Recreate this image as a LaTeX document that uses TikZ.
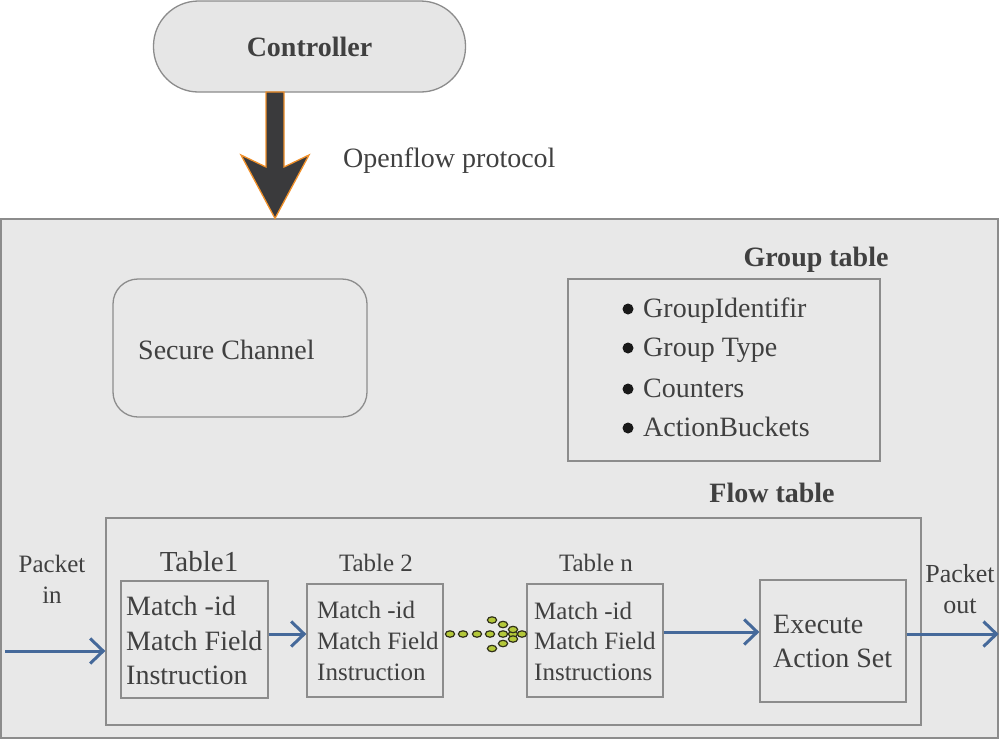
\documentclass[tikz,border=0pt]{standalone}
\usepackage{fontspec}
\setmainfont{Liberation Serif}
\usetikzlibrary{arrows.meta,calc}
\definecolor{txt}{HTML}{404040}
\definecolor{edge}{HTML}{8C8C8C}
\definecolor{panel}{HTML}{E8E8E8}
\definecolor{ctrlfill}{HTML}{E6E6E6}
\definecolor{flowblue}{HTML}{45699A}
\definecolor{darkarrow}{HTML}{3A3A3C}
\definecolor{orangeedge}{HTML}{F0902A}
\definecolor{dotfill}{HTML}{B4C83A}
\definecolor{dotedge}{HTML}{30301A}
\begin{document}
\begin{tikzpicture}[x=1pt,y=-1pt,
  box/.style={draw=edge, line width=1.3pt, fill=panel, inner sep=0pt},
  lbl/.style={text=txt, inner sep=0pt, anchor=base west, font=\fontsize{28}{30}\selectfont},
  clbl/.style={text=txt, inner sep=0pt, anchor=base, font=\fontsize{26}{30}\selectfont},
  title/.style={text=txt, inner sep=0pt, anchor=base, font=\fontsize{28}{30}\selectfont\bfseries},
  small/.style={text=txt, inner sep=0pt, anchor=base west, font=\fontsize{25}{30}\selectfont},
  big/.style={text=txt, inner sep=0pt, anchor=base west, font=\fontsize{28}{30}\selectfont},
  flow/.style={draw=flowblue, line width=3pt, -{Straight Barb[length=13pt,width=25pt]}},
  gdot/.style={fill=dotfill, draw=dotedge, line width=1.2pt},
  bul/.style={fill=black!90, draw=none}]
\useasboundingbox (0,0) rectangle (1000,740);
\fill[white] (0,0) rectangle (1000,740);
% main panel
\node[box, minimum width=997pt, minimum height=519pt] (main) at (499.5,478.5) {};
% controller
\node[draw=edge, line width=1.3pt, fill=ctrlfill, rounded corners=45pt, minimum width=312pt, minimum height=91pt, inner sep=0pt, text=txt, font=\fontsize{28}{30}\selectfont\bfseries] (ctrl) at (309.5,46.5) {Controller};
% big arrow
\coordinate (atop) at (275,92);
\coordinate (abot) at (atop |- main.north);
\draw[fill=darkarrow, draw=orangeedge, line width=1.3pt, line join=miter]
  ($(atop)+(-9,0)$) -- ($(atop)+(9,0)$) -- ($(atop)+(9,75)$) -- ($(atop)+(34,63)$)
  -- (abot) -- ($(atop)+(-34,63)$) -- ($(atop)+(-9,75)$) -- cycle;
\node[lbl] (ofp) at (343,167) {Openflow protocol};
% secure channel
\node[box, rounded corners=25pt, minimum width=254pt, minimum height=138pt] (sc) at (240,348) {};
\node[lbl] (sctext) at (138,359) {Secure Channel};
% group table
\node[title] (gtitle) at (816,266) {Group table};
\node[box, minimum width=312pt, minimum height=182pt] (gt) at (724,370) {};
\foreach \t/\b [count=\i] in {GroupIdentifir/317, Group Type/356, Counters/397, ActionBuckets/436} {
  \fill[bul] (628,\b-8) circle (5.5pt);
  \node[lbl] (gi\i) at (643,\b) {\t};
}
% flow table
\node[title] (ftitle) at (772,502) {Flow table};
\node[box, minimum width=815pt, minimum height=207pt] (fbox) at (513.5,621.5) {};
% tables
\node[box, minimum width=147pt, minimum height=117pt] (t1) at (194.5,639.5) {};
\node[box, minimum width=136pt, minimum height=113pt] (t2) at (375,640.5) {};
\node[box, minimum width=136pt, minimum height=113pt] (tn) at (595,640.5) {};
\node[box, minimum width=146pt, minimum height=122pt] (exe) at (833,641) {};
\node[clbl, font=\fontsize{29}{30}\selectfont] (t1l) at (199,571) {Table1};
\node[clbl, font=\fontsize{25}{30}\selectfont] (t2l) at (376,571) {Table 2};
\node[clbl, font=\fontsize{25}{30}\selectfont] (tnl) at (596,571) {Table n};
\node[big] (t1a) at (126,615) {Match -id};
\node[big] (t1b) at (126,650) {Match Field};
\node[big] (t1c) at (126,684) {Instruction};
\node[small] (t2a) at (317,618) {Match -id};
\node[small] (t2b) at (317,649) {Match Field};
\node[small] (t2c) at (317,680) {Instruction};
\node[small] (tna) at (534,619) {Match -id};
\node[small] (tnb) at (534,649) {Match Field};
\node[small] (tnc) at (534,680) {Instructions};
\node[lbl] (exa) at (773,633) {Execute};
\node[lbl] (exb) at (773,667) {Action Set};
% packet labels
\node[clbl, font=\fontsize{25}{30}\selectfont] (pin1) at (52,572) {Packet};
\node[clbl, font=\fontsize{25}{30}\selectfont] (pin2) at (52,603) {in};
\node[clbl] (pout1) at (960,582) {Packet};
\node[clbl] (pout2) at (960,613) {out};
% arrows
\coordinate (pin) at (5,651);
\draw[flow] (pin) -- (pin -| fbox.west);
\draw[flow] ([yshift=5.5pt]t1.east) -- ([yshift=5.5pt]t1.east -| t2.west);
\draw[flow] ([yshift=8.5pt]tn.east) -- ([yshift=8.5pt]tn.east -| exe.west);
\draw[flow] ([yshift=7pt]exe.east) -- ([yshift=7pt]exe.east -| main.east);
% dotted arrow
\foreach \x/\y in {450/634, 463/634, 477/634, 490/634, 503/634, 513/634, 522/634,
                   492/620, 503/624.5, 513/629.5, 513/639, 503/643.5, 492/648.5} {
  \filldraw[gdot] (\x,\y) ellipse (4.6pt and 3.2pt);
}
\end{tikzpicture}
\end{document}
